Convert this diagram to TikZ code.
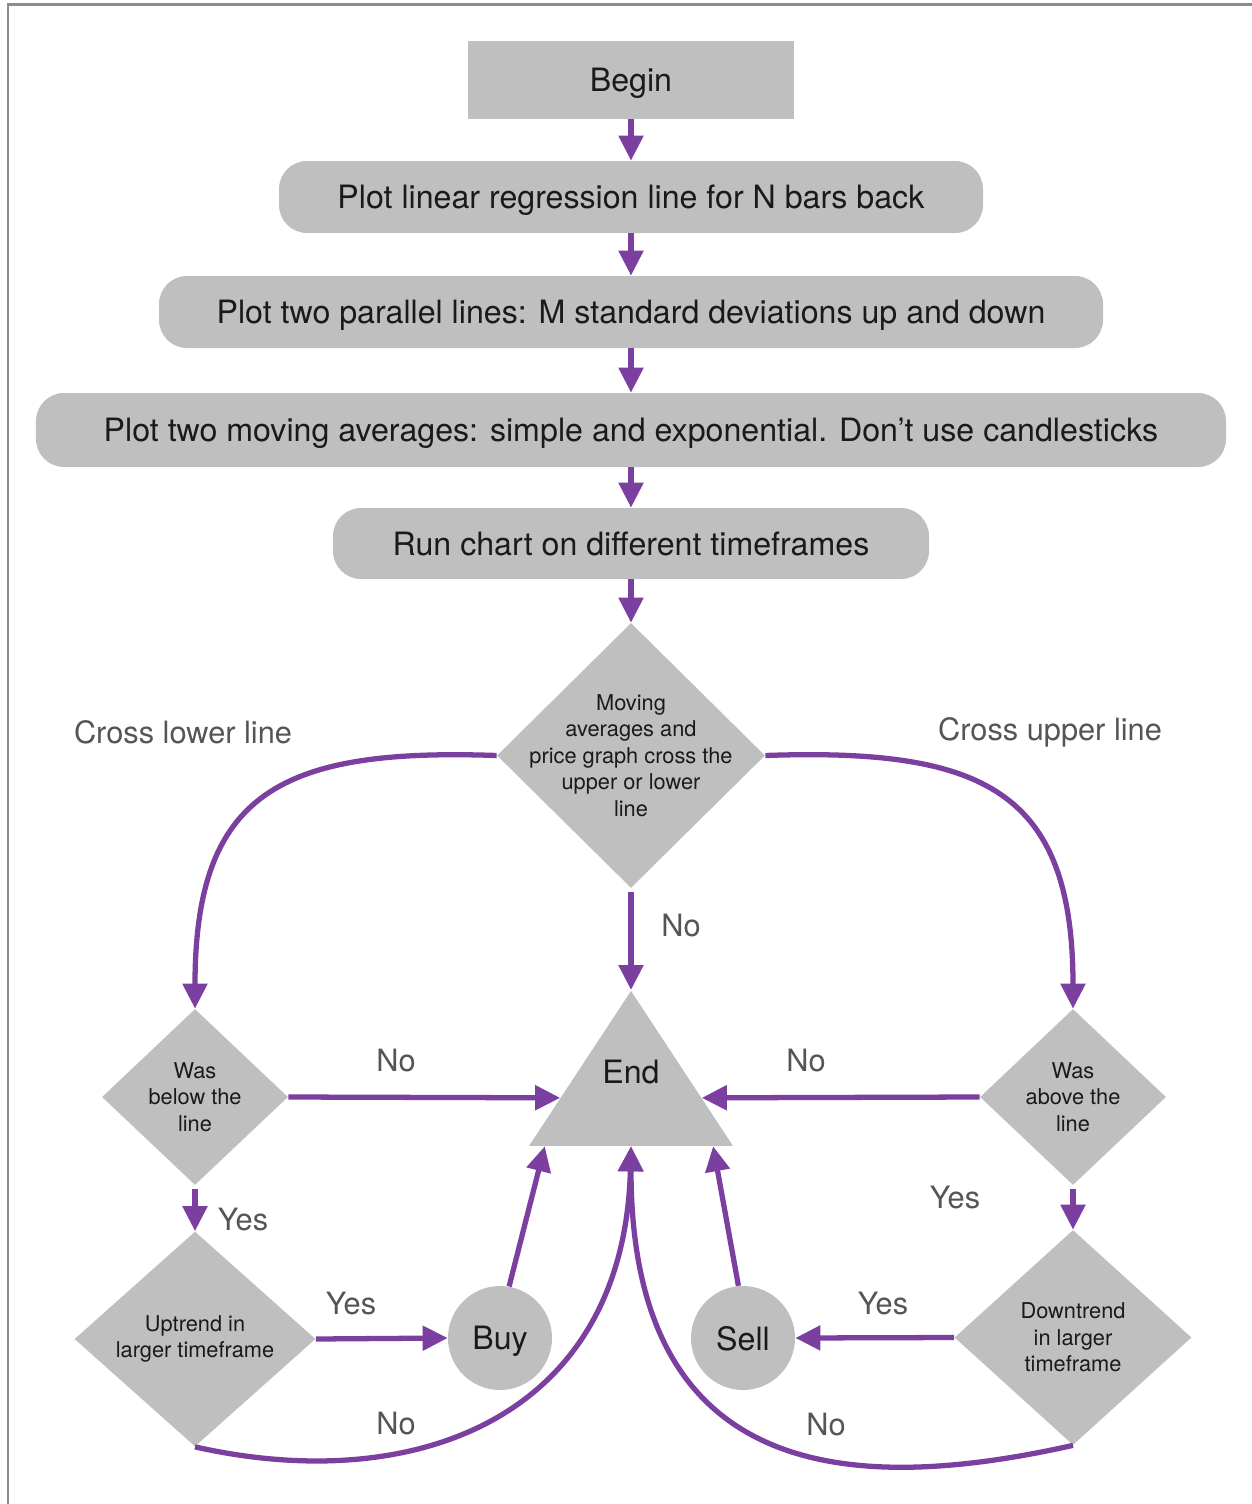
\documentclass[tikz,border=0pt]{standalone}
\usepackage{fontspec}
\setmainfont{TeX Gyre Heros}
\usepackage{xcolor}
\usepackage{tikz}
\usetikzlibrary{arrows.meta,calc,shapes.geometric}
\definecolor{LRCPurple}{HTML}{7B3FA0}
\definecolor{LRCShape}{HTML}{BFBFBF}
\definecolor{LRCInk}{HTML}{1A1A1A}
\definecolor{LRCMuted}{HTML}{555555}
\definecolor{LRCFrame}{HTML}{8C8C8C}

\begin{document}
\begin{tikzpicture}[
  font=\fontsize{18.3}{22}\selectfont,
  startbox/.style={rectangle,fill=LRCShape,text=LRCInk,minimum width=6.52cm,minimum height=1.56cm,inner sep=0pt,text depth=0pt},
  stepbox/.style={rectangle,rounded corners=0.56cm,fill=LRCShape,text=LRCInk,minimum height=1.44cm,inner sep=0pt,text depth=0pt},
  decision/.style={diamond,fill=LRCShape,inner sep=0pt},
  qtext/.style={text=LRCInk,align=center,font=\fontsize{12.4}{15}\selectfont},
  action/.style={circle,fill=LRCShape,text=LRCInk,minimum size=2.08cm,inner sep=0pt,text depth=0pt},
  branch/.style={text=LRCMuted,inner sep=0pt,font=\fontsize{17.5}{21}\selectfont},
  flow/.style={-{Triangle[length=0.5cm,width=0.48cm]},line width=3pt,draw=LRCPurple}
]
\useasboundingbox (0,0) rectangle (25.04,-30.08);
\draw[LRCFrame,line width=1.4pt] (0.16,-30.2) -- (0.16,-0.09) -- (25.2,-0.09);

\node[startbox] (begin) at (12.62,-1.60) {Begin};
\node[stepbox,minimum width=14.08cm] (linreg) at (12.62,-3.94) {Plot linear regression line for N bars back};
\node[stepbox,minimum width=18.88cm] (bands) at (12.62,-6.24) {Plot two parallel lines: M standard deviations up and down};
\node[stepbox,minimum width=23.80cm,minimum height=1.48cm] (averages) at (12.62,-8.60) {Plot two moving averages: simple and exponential. Don’t use candlesticks};
\node[stepbox,minimum width=11.92cm,minimum height=1.42cm] (run) at (12.62,-10.87) {Run chart on different timeframes};

\node[decision,minimum width=5.36cm,minimum height=5.30cm,
  label={[qtext]center:Moving\\averages and\\price graph cross the\\upper or lower\\line}] (cross) at (12.62,-15.11) {};

\node[isosceles triangle,isosceles triangle stretches,shape border rotate=90,fill=LRCShape,
  minimum width=4.08cm,minimum height=3.10cm,inner sep=0pt,anchor=apex] (stop) at (12.62,-19.80) {};
\node[text=LRCInk] (stoptext) at (12.62,-21.44) {End};

\node[decision,minimum width=3.72cm,minimum height=3.52cm,
  label={[qtext]center:Was\\below the\\line}] (below) at (3.90,-21.94) {};
\node[decision,minimum width=3.72cm,minimum height=3.52cm,
  label={[qtext]center:Was\\above the\\line}] (above) at (21.46,-21.94) {};

\node[decision,minimum width=4.82cm,minimum height=4.30cm,
  label={[qtext]center:Uptrend in\\larger timeframe}] (uptrend) at (3.90,-26.78) {};
\node[decision,minimum width=4.74cm,minimum height=4.30cm,
  label={[qtext]center:Downtrend\\in larger\\timeframe}] (downtrend) at (21.46,-26.75) {};

\node[action] (buy) at (10.00,-26.76) {Buy};
\node[action] (sell) at (14.86,-26.76) {Sell};

% main column
\draw[flow] (begin.south) -- (linreg.north);
\draw[flow] (linreg.south) -- (bands.north);
\draw[flow] (bands.south) -- (averages.north);
\draw[flow] (averages.south) -- (run.north);
\draw[flow] (run.south) -- (cross.north);
\draw[flow,shorten <=0.08cm] (cross.south) -- (stop.apex);

% branches
\draw[flow] (cross.west) to[out=178,in=90,looseness=1.4] (below.north);
\draw[flow] (cross.east) to[out=2,in=90,looseness=1.4] (above.north);
\draw[flow] (below.east) -- ($(stop.apex)!0.69!(stop.left corner)$);
\draw[flow] (above.west) -- ($(stop.apex)!0.69!(stop.right corner)$);
\draw[flow,shorten <=0.08cm] (below.south) -- (uptrend.north);
\draw[flow,shorten <=0.08cm] (above.south) -- (downtrend.north);
\draw[flow] (uptrend.east) -- (buy.west);
\draw[flow] (downtrend.west) -- (sell.east);
\draw[flow] (buy.80) -- ($(stop.left corner)!0.08!(stop.right corner)$);
\draw[flow] (sell.95) -- ($(stop.left corner)!0.90!(stop.right corner)$);
\draw[flow] (uptrend.south) .. controls +(4.44,-1.0) and +(-0.14,-5.4) .. ($(stop.left corner)!0.5!(stop.right corner)$);
\draw[flow] (downtrend.south) .. controls +(-4.46,-1.0) and +(0.0,-6.7) .. ($(stop.left corner)!0.5!(stop.right corner)$);

% labels
\node[branch] (lowerlbl) at (3.66,-14.64) {Cross lower line};
\node[branch] (upperlbl) at (21.00,-14.64) {Cross upper line};
\node[branch] (nomid) at (13.62,-18.52) {No};
\node[branch] (noleft) at (7.92,-21.22) {No};
\node[branch] (noright) at (16.12,-21.22) {No};
\node[branch] (yesleft) at (4.86,-24.40) {Yes};
\node[branch] (yesright) at (19.10,-23.96) {Yes};
\node[branch] (yesbuy) at (7.02,-26.08) {Yes};
\node[branch] (yessell) at (17.66,-26.08) {Yes};
\node[branch] (nobuy) at (7.92,-28.48) {No};
\node[branch] (nosell) at (16.52,-28.50) {No};
\end{tikzpicture}
\end{document}
